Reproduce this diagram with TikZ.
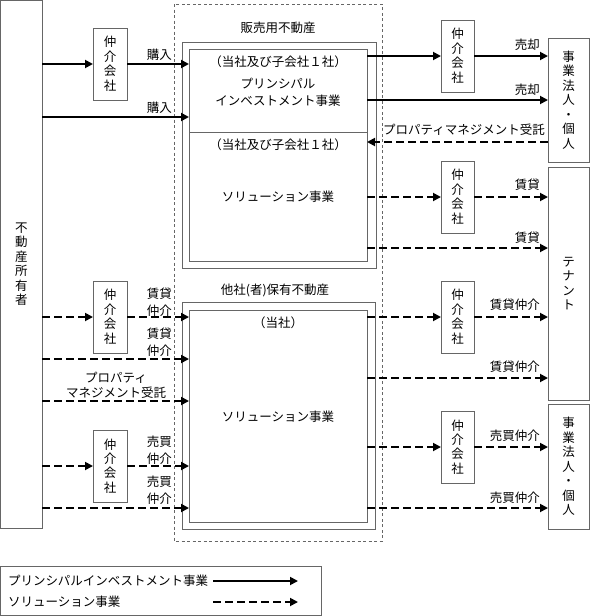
\documentclass[tikz,border=0pt]{standalone}
\usepackage{fontspec}
\setmainfont{Noto Sans CJK JP}
\usetikzlibrary{arrows.meta}

\newcommand\lblfont{\fontsize{12.5}{17}\selectfont}
\newcommand\colfont{\fontsize{12.5}{14.5}\selectfont}

\begin{document}
\begin{tikzpicture}[x=1pt,y=-1pt,
  frame/.style={draw=black!60,line width=0.8pt},
  box/.style={frame,inner sep=0pt,outer sep=0pt,align=center,font=\colfont,anchor=north west},
  agent/.style={box,minimum width=34pt,minimum height=72pt},
  lbl/.style={inner sep=0pt,align=center,font=\lblfont},
  principal/.style={-{Triangle[length=8pt,width=8pt]},line width=1.8pt},
  solution/.style={principal,dash pattern=on 8pt off 4pt}]
\useasboundingbox (0,0) rectangle (590,616);

% outside parties
\node[box,minimum width=41.5pt,minimum height=527.5pt] (owner) at (0.5,0.5) {不\\動\\産\\所\\有\\者};
\node[box,minimum width=41pt,minimum height=124pt] (biz1) at (548,38) {事\\業\\法\\人\\・\\個\\人};
\node[box,minimum width=41pt,minimum height=233pt] (tenant) at (548,167) {テ\\ナ\\ン\\ト};
\node[box,minimum width=41pt,minimum height=125pt] (biz2) at (548,404) {事\\業\\法\\人\\・\\個\\人};

% brokers
\node[agent] (agentL1) at (93,28) {仲\\介\\会\\社};
\node[agent] (agentL2) at (93,281) {仲\\介\\会\\社};
\node[agent] (agentL3) at (93,430) {仲\\介\\会\\社};
\node[agent,minimum width=33pt] (agentR1) at (441,20) {仲\\介\\会\\社};
\node[agent,minimum width=33pt] (agentR2) at (441,161) {仲\\介\\会\\社};
\node[agent,minimum width=33pt] (agentR3) at (441,281) {仲\\介\\会\\社};
\node[agent,minimum width=33pt] (agentR4) at (441,411) {仲\\介\\会\\社};

% the company
\draw[black!60,line width=0.6pt,dash pattern=on 3pt off 2.5pt] (174,4) rectangle (382,541);
\node[box,minimum width=194pt,minimum height=226pt] (saleout) at (182,42) {};
\node[box,minimum width=178pt,minimum height=212pt] (salein) at (189,49) {};
\node[box,minimum width=193pt,minimum height=227pt] (otherout) at (182,302) {};
\node[box,minimum width=178pt,minimum height=212pt] (otherin) at (189,310) {};
\coordinate (split) at (0,132);
\draw[frame] (salein.west |- split) -- (salein.east |- split);

\node[lbl] (saletitle) at (278,28) {販売用不動産};
\node[lbl] (saleco1) at (278,62) {（当社及び子会社１社）};
\node[lbl] (piname) at (278,92) {プリンシパル\\インベストメント事業};
\node[lbl] (saleco2) at (278,145) {（当社及び子会社１社）};
\node[lbl] (solname1) at (278,197) {ソリューション事業};
\node[lbl] (othertitle) at (275,290) {他社(者)保有不動産};
\node[lbl] (otherco) at (278,323) {（当社）};
\node[lbl] (solname2) at (278,417) {ソリューション事業};

% rows
\coordinate (r2) at (0,117);
\coordinate (r5) at (0,248);
\coordinate (r7) at (0,378);
\coordinate (r9) at (0,508);
\coordinate (lB) at (0,359);
\coordinate (lC) at (0,401);

% left side
\draw[principal] (owner.east |- agentL1) -- (agentL1);
\draw[principal] (agentL1) -- (salein.west |- agentL1);
\draw[principal] (owner.east |- r2) -- (salein.west |- r2);
\draw[solution] (owner.east |- agentL2) -- (agentL2);
\draw[solution] (agentL2) -- (otherin.west |- agentL2);
\draw[solution] (owner.east |- lB) -- (otherin.west |- lB);
\draw[solution] (owner.east |- lC) -- (otherin.west |- lC);
\draw[solution] (owner.east |- agentL3) -- (agentL3);
\draw[solution] (agentL3) -- (otherin.west |- agentL3);
\draw[solution] (owner.east |- r9) -- (otherin.west |- r9);

\node[lbl,anchor=east] (buy1) at (172,55) {購入};
\node[lbl,anchor=east] (buy2) at (172,108) {購入};
\node[lbl,anchor=east] (lease1) at (172,302) {賃貸\\仲介};
\node[lbl,anchor=east] (lease2) at (172,342) {賃貸\\仲介};
\node[lbl,font=\fontsize{12.5}{15}\selectfont] (pm1) at (116,385) {プロパティ\\マネジメント受託};
\node[lbl,anchor=east] (trade1) at (172,450) {売買\\仲介};
\node[lbl,anchor=east] (trade2) at (172,490) {売買\\仲介};

% right side
\draw[principal] (salein.east |- agentR1) -- (agentR1);
\draw[principal] (agentR1) -- (biz1.west |- agentR1);
\draw[principal] (salein.east |- 0,100) -- (biz1.west |- 0,100);
\draw[solution] (biz1.west |- 0,142) -- (salein.east |- 0,142);
\draw[solution] (salein.east |- agentR2) -- (agentR2);
\draw[solution] (agentR2) -- (tenant.west |- agentR2);
\draw[solution] (salein.east |- r5) -- (tenant.west |- r5);
\draw[solution] (otherin.east |- agentR3) -- (agentR3);
\draw[solution] (agentR3) -- (tenant.west |- agentR3);
\draw[solution] (otherin.east |- r7) -- (tenant.west |- r7);
\draw[solution] (otherin.east |- agentR4) -- (agentR4);
\draw[solution] (agentR4) -- (biz2.west |- agentR4);
\draw[solution] (otherin.east |- r9) -- (biz2.west |- r9);

\node[lbl,anchor=east] (sell1) at (540,45) {売却};
\node[lbl,anchor=east] (sell2) at (540,90) {売却};
\node[lbl,anchor=east] (pm2) at (545,130) {プロパティマネジメント受託};
\node[lbl,anchor=east] (rent1) at (540,185) {賃貸};
\node[lbl,anchor=east] (rent2) at (540,238) {賃貸};
\node[lbl,anchor=east] (lease3) at (540,305) {賃貸仲介};
\node[lbl,anchor=east] (lease4) at (540,367) {賃貸仲介};
\node[lbl,anchor=east] (trade3) at (540,436) {売買仲介};
\node[lbl,anchor=east] (trade4) at (540,498) {売買仲介};

% legend
\node[box,minimum width=320.5pt,minimum height=49pt] (legend) at (0.5,566) {};
\node[lbl,anchor=west] (keypi) at (8,581) {プリンシパルインベストメント事業};
\node[lbl,anchor=west] (keysol) at (8,602) {ソリューション事業};
\coordinate (k1a) at (213,581);
\coordinate (k1b) at (298,581);
\coordinate (k2a) at (213,602);
\coordinate (k2b) at (298,602);
\draw[principal] (k1a) -- (k1b);
\draw[solution] (k2a) -- (k2b);
\end{tikzpicture}
\end{document}
